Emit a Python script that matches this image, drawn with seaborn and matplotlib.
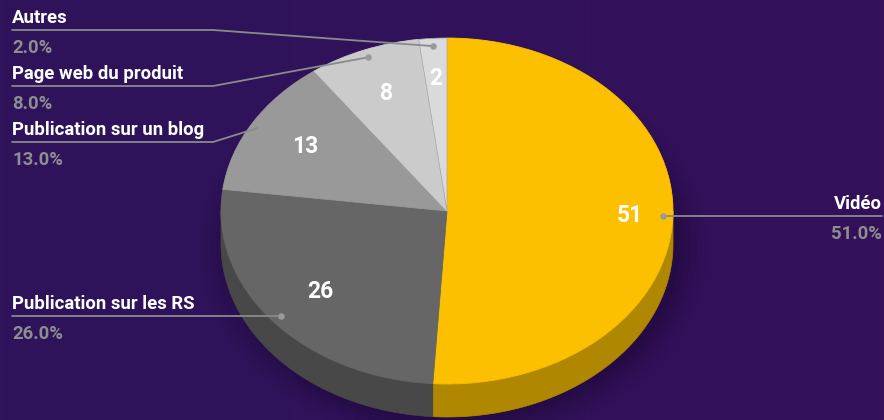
import numpy as np
import matplotlib
matplotlib.use("Agg")
import matplotlib.pyplot as plt
from matplotlib.patches import Polygon, Ellipse
import seaborn as sns

# ---- data ----
categories = ["Vidéo", "Publication sur les RS", "Publication sur un blog",
              "Page web du produit", "Autres"]
values = [51, 26, 13, 8, 2]
top_colors = ["#FCC000", "#666666", "#999999", "#CBCBCB", "#DADADA"]
side_colors = ["#B08700", "#484848", "#6B6B6B", "#8E8E8E", "#999999"]

sns.set_theme(style="white")
plt.rcParams["font.family"] = ["Roboto", "DejaVu Sans"]

W, H = 884, 420
fig = plt.figure(figsize=(W / 100, H / 100), dpi=100)
ax = fig.add_axes([0, 0, 1, 1])

# geometry in pixels -> data units
cx, cy, rx, ry, depth_px = 447, 211, 226, 173, 33
xlim = (-cx / rx, (W - cx) / rx)
ylim = ((cy - H) / ry, cy / ry)
depth = depth_px / ry

def px(x, y):
    """pixel (from top-left) -> data coordinates"""
    return (x - cx) / rx, (cy - y) / ry

# background gradient
grad = np.linspace(0, 1, 256)[None, :]
bg = matplotlib.colors.LinearSegmentedColormap.from_list("bg", ["#2E145B", "#34115A"])
ax.imshow(grad, extent=(xlim[0], xlim[1], ylim[0], ylim[1]), aspect="auto",
          cmap=bg, zorder=0)

# soft shadow under the pie
for i, a in enumerate(np.linspace(0.05, 0.02, 6)):
    ax.add_patch(Ellipse((0.03, -depth - 0.02), 2.0 + 0.05 * i, 2.0 + 0.06 * i,
                         color="black", alpha=a, lw=0, zorder=1))

# side walls (front half only)
total = float(sum(values))
start = 90.0
angles = []
for v in values:
    a1 = start - 360.0 * v / total
    angles.append((a1, start))
    start = a1
for (a1, a2), col in zip(angles, side_colors):
    lo, hi = max(a1, -180.0), min(a2, 0.0)
    if lo < hi:
        th = np.radians(np.linspace(lo, hi, 100))
        top = np.column_stack([np.cos(th), np.sin(th)])
        bot = top[::-1] - [0, depth]
        ax.add_patch(Polygon(np.vstack([top, bot]), closed=True, fc=col,
                             ec=col, lw=0.5, zorder=2))

# top face
wedges, _, autotexts = ax.pie(values, colors=top_colors, startangle=90,
                              counterclock=False, radius=1.0,
                              autopct=lambda p: f"{p * total / 100:.0f}",
                              pctdistance=0.73,
                              wedgeprops=dict(linewidth=0.6),
                              textprops=dict(color="white", fontsize=16.5,
                                             fontweight="bold"))
for w, c in zip(wedges, top_colors):
    w.set_zorder(3)
    w.set_edgecolor(c)
wedges[4].set_edgecolor("#A8A8A8")
wedges[4].set_linewidth(0.5)
# nudge the biggest and the smallest labels outward, as in the reference
for t, k in zip(autotexts, [0.81 / 0.73, 1.0, 1.0, 1.0, 0.77 / 0.73]):
    x, y = t.get_position()
    t.set_position((x * k, y * k))
    t.set_zorder(4)

ax.set_aspect("auto")
ax.set_xlim(*xlim)
ax.set_ylim(*ylim)
ax.axis("off")

# outer labels with leader lines
line_col = "#8A8A8A"
pct_col = "#8E8E8E"
dot_r = 0.955
left_y = {2: 142, 3: 86, 4: 30}
fs = 13.3
up, down = 7 / ry, 9 / ry

def put_labels(x, y, cat, pct, ha):
    ax.text(x, y + up, cat, ha=ha, va="baseline", color="white",
            fontsize=fs, fontweight="bold", zorder=6)
    ax.text(x, y - down, pct, ha=ha, va="top", color=pct_col,
            fontsize=fs, fontweight="bold", zorder=6)

for i, (cat, v) in enumerate(zip(categories, values)):
    a1, a2 = angles[i]
    mid = np.radians((a1 + a2) / 2)
    dx, dy = dot_r * np.cos(mid), dot_r * np.sin(mid)
    pct = f"{100 * v / total:.1f}%"
    if i == 0:
        ex = xlim[1] - 2 / rx
        ax.plot([dx, ex], [dy, dy], color=line_col, lw=1.3, zorder=5)
        put_labels(ex, dy, cat, pct, "right")
    elif i == 1:
        sx = px(12, 0)[0]
        ax.plot([dx, sx], [dy, dy], color=line_col, lw=1.3, zorder=5)
        put_labels(sx, dy, cat, pct, "left")
    else:
        sx, ly = px(12, left_y[i])
        kx, _ = px(213, left_y[i])
        ax.plot([dx, kx, sx], [dy, ly, ly], color=line_col, lw=1.3, zorder=5)
        put_labels(sx, ly, cat, pct, "left")
    ax.scatter([dx], [dy], s=22, color="#9A9A9A", zorder=6, linewidths=0)

fig.savefig("out.png", dpi=100)
